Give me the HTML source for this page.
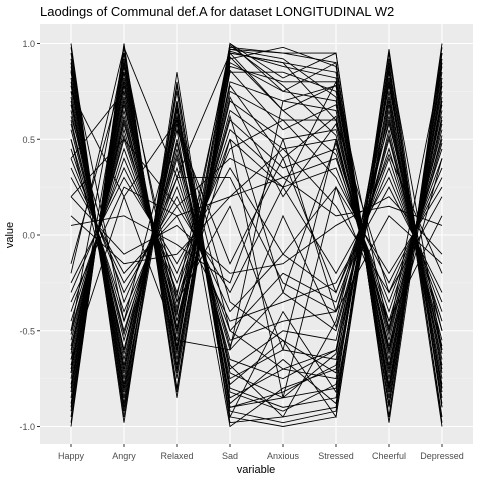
<!DOCTYPE html>
<html><head><meta charset="utf-8"><style>
body{margin:0;background:#fff;}
svg text{font-family:"Liberation Sans",sans-serif;}
</style></head><body>
<svg id="chart" width="480" height="480">
<rect x="0" y="0" width="480" height="480" fill="#fff"/>
<text x="40" y="16" font-size="13" fill="#000">Laodings of Communal def.A for dataset LONGITUDINAL W2</text>
<rect x="40" y="24" width="433" height="420" fill="#EBEBEB"/>
<g id="grid"></g><g id="lines"></g><g id="axes"></g>
<text x="256" y="473" font-size="11" text-anchor="middle" fill="#000">variable</text>
<text x="13" y="235" font-size="11" text-anchor="middle" fill="#000" transform="rotate(-90 13 235)">value</text>
</svg>
<script>
const categories=["Happy","Angry","Relaxed","Sad","Anxious","Stressed","Cheerful","Depressed"];
const yTicks=[-1,-0.5,0,0.5,1];
const yTickLabels=["-1.0","-0.5","0.0","0.5","1.0"];
const seriesA=[
[1.0,-0.95,0.8,-0.98,-0.95,-0.9,0.95,-0.98],
[0.95,-0.9,0.7,-0.9,-0.85,-0.8,0.9,-0.9],
[0.9,-0.85,0.75,-0.95,-1.0,-0.95,0.85,-0.95],
[0.85,-0.8,0.6,-0.85,-0.7,-0.75,0.8,-0.85],
[0.8,-0.75,0.65,-0.8,-0.9,-0.85,0.75,-0.8],
[0.75,-0.7,0.55,-1.0,-0.8,-0.7,0.7,-0.75],
[0.7,-0.65,0.5,-0.75,-0.6,-0.65,0.65,-0.7],
[0.65,-0.6,0.45,-0.7,-0.5,-0.55,0.6,-0.65],
[0.6,-0.55,0.4,-0.65,-0.75,-0.6,0.55,-0.6],
[0.55,-0.5,0.35,-0.6,-0.3,-0.5,0.5,-0.55],
[0.5,-0.45,0.3,-0.55,-0.45,-0.4,0.45,-0.5],
[0.45,-0.4,0.25,-0.5,-0.2,-0.35,0.4,-0.45],
[0.98,-0.98,0.85,-0.92,-0.98,-0.92,0.97,-0.9],
[0.92,-0.88,0.78,-0.88,-0.65,-0.88,0.88,-0.88],
[0.88,-0.82,0.68,-0.82,-0.92,-0.78,0.82,-0.82],
[0.78,-0.72,0.62,-0.78,-0.55,-0.72,0.78,-0.72],
[0.72,-0.68,0.58,-0.72,-0.85,-0.62,0.72,-0.68],
[0.4,-0.3,0.2,-0.4,-0.1,-0.3,0.35,-0.4],
[0.35,-0.25,0.15,-0.3,0.25,-0.2,0.3,-0.35],
[0.3,-0.2,0.1,-0.45,-0.35,-0.25,0.25,-0.3],
[0.82,-0.78,0.7,-0.95,-0.4,-0.82,0.68,-0.78],
[0.68,-0.62,0.48,-0.68,-0.95,-0.45,0.62,-0.62],
[0.58,-0.52,0.42,-0.58,0.1,-0.48,0.52,-0.58],
[0.2,-0.1,0.05,-0.2,-0.15,0.05,0.2,-0.1],
[0.75,0.2,0.6,-0.5,-0.7,-0.6,0.8,-0.8],
[0.62,-0.35,0.3,0.3,-0.25,-0.4,0.58,-0.5],
[0.5,-0.6,0.55,-0.15,0.4,-0.3,0.42,-0.2],
[0.9,-0.45,0.62,-0.35,-0.55,-0.95,0.92,-0.6],
[0.1,-0.15,-0.1,0.2,0.3,0.1,0.15,0.05],
[0.86,-0.92,0.66,-0.9,-0.82,-0.68,0.86,-1.0]
];
const seriesB=[
[-1.0,1.0,-0.85,0.98,0.95,0.9,-0.95,0.98],
[-0.95,0.95,-0.8,0.95,0.9,0.85,-0.9,0.95],
[-0.9,0.9,-0.75,0.92,0.98,0.88,-0.85,0.9],
[-0.85,0.85,-0.7,0.88,0.8,0.8,-0.8,0.85],
[-0.8,0.8,-0.65,0.85,0.85,0.75,-0.75,0.8],
[-0.75,0.75,-0.6,0.9,0.75,0.7,-0.7,0.75],
[-0.7,0.7,-0.55,0.8,0.7,0.65,-0.65,0.7],
[-0.65,0.65,-0.5,0.75,0.6,0.6,-0.6,0.65],
[-0.6,0.6,-0.45,0.7,0.5,0.55,-0.55,0.6],
[-0.55,0.55,-0.4,0.65,0.45,0.5,-0.5,0.55],
[-0.5,0.5,-0.35,0.6,0.35,0.45,-0.45,0.5],
[-0.45,0.45,-0.3,0.55,0.3,0.4,-0.4,0.45],
[-0.4,0.4,-0.25,0.5,0.25,0.35,-0.35,0.4],
[-0.98,0.98,-0.82,1.0,0.82,0.95,-0.98,0.92],
[-0.92,0.92,-0.72,0.96,0.88,0.82,-0.88,0.88],
[-0.88,0.88,-0.68,0.93,0.65,0.78,-0.82,0.82],
[-0.82,0.82,-0.62,0.97,0.92,0.72,-0.78,0.78],
[-0.78,0.78,-0.58,0.86,0.55,0.68,-0.72,0.72],
[-0.72,0.72,-0.52,0.78,0.4,0.62,-0.68,0.68],
[-0.68,0.68,-0.48,0.72,0.2,0.58,-0.62,0.62],
[-0.62,0.62,-0.42,0.99,0.78,0.52,-0.58,0.58],
[-0.58,0.58,-0.38,0.62,-0.3,0.48,-0.52,0.52],
[-0.52,0.52,-0.32,0.95,0.65,0.42,-0.48,0.48],
[-0.3,0.35,-0.2,0.45,0.6,0.3,-0.25,0.3],
[-0.25,0.3,-0.15,0.35,-0.1,0.25,-0.2,0.25],
[-0.35,0.25,0.1,0.2,0.45,0.15,-0.3,0.2],
[0.4,0.75,-0.5,0.97,0.95,0.95,-0.9,0.95],
[-0.2,0.98,0.3,0.95,0.9,0.6,-0.3,0.35],
[0.2,0.5,0.15,0.4,0.25,0.8,-0.5,0.9],
[-0.65,0.2,-0.55,-0.6,0.7,0.78,-0.8,0.7],
[-0.5,0.95,-0.45,0.5,-0.85,0.25,-0.45,0.1],
[-0.15,0.85,-0.6,1.0,0.75,0.9,-0.95,1.0],
[0.05,0.1,-0.05,-0.25,0.5,-0.4,0.1,-0.15],
[-0.72,0.9,-0.35,0.15,-0.6,0.5,-0.6,0.4]
];
const NS="http://www.w3.org/2000/svg";
const x0=71,dx=53,yZero=235,yUnit=191.5;
function xScale(i){return x0+i*dx;}
function yScale(v){return yZero-v*yUnit;}
const grid=document.getElementById('grid'),axes=document.getElementById('axes'),lines=document.getElementById('lines');
[-0.75,-0.25,0.25,0.75].forEach(v=>{const l=document.createElementNS(NS,'line');
l.setAttribute('x1',40);l.setAttribute('x2',473);l.setAttribute('y1',yScale(v));l.setAttribute('y2',yScale(v));
l.setAttribute('stroke','#F5F5F5');l.setAttribute('stroke-width','0.6');


grid.appendChild(l);});
yTicks.forEach((v,i)=>{const y=yScale(v);
const l=document.createElementNS(NS,'line');
l.setAttribute('x1',40);l.setAttribute('x2',473);l.setAttribute('y1',y);l.setAttribute('y2',y);
l.setAttribute('stroke','#fff');l.setAttribute('stroke-width','1.1');


grid.appendChild(l);
const t=document.createElementNS(NS,'line');
t.setAttribute('x1',37);t.setAttribute('x2',40);t.setAttribute('y1',y);t.setAttribute('y2',y);t.setAttribute('stroke','#333');


axes.appendChild(t);
const tx=document.createElementNS(NS,'text');
tx.setAttribute('x',35);tx.setAttribute('y',y+3.5);tx.setAttribute('text-anchor','end');tx.setAttribute('font-size','9');tx.setAttribute('fill','#4D4D4D');
tx.textContent=yTickLabels[i];


axes.appendChild(tx);});
categories.forEach((c,i)=>{const x=xScale(i);
const l=document.createElementNS(NS,'line');
l.setAttribute('x1',x);l.setAttribute('x2',x);l.setAttribute('y1',24);l.setAttribute('y2',444);
l.setAttribute('stroke','#fff');l.setAttribute('stroke-width','1.1');


grid.appendChild(l);
const t=document.createElementNS(NS,'line');
t.setAttribute('x1',x);t.setAttribute('x2',x);t.setAttribute('y1',444);t.setAttribute('y2',447);t.setAttribute('stroke','#333');


axes.appendChild(t);
const tx=document.createElementNS(NS,'text');
tx.setAttribute('x',x);tx.setAttribute('y',459);tx.setAttribute('text-anchor','middle');tx.setAttribute('font-size','9');tx.setAttribute('fill','#4D4D4D');
tx.textContent=c;


axes.appendChild(tx);});
seriesA.concat(seriesB).forEach((row,k)=>{
const p=document.createElementNS(NS,'polyline');
p.setAttribute('points',row.map((v,i)=>xScale(i)+','+yScale(v)).join(' '));
p.setAttribute('fill','none');p.setAttribute('stroke','#000');p.setAttribute('stroke-width','0.9');


lines.appendChild(p);});
</script>
</body></html>
